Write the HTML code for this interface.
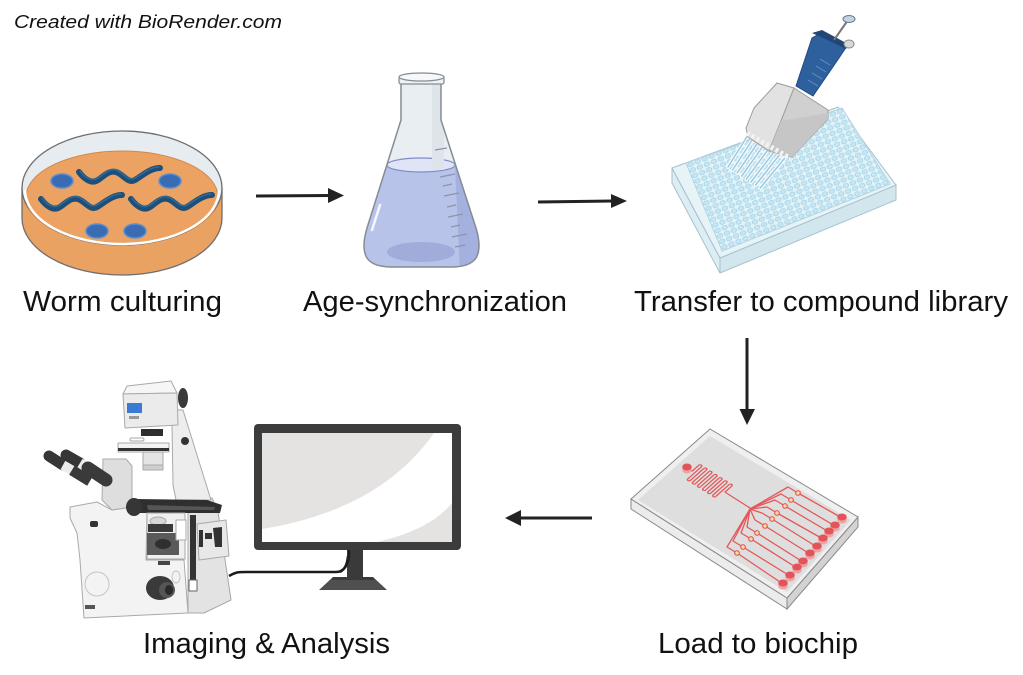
<!DOCTYPE html>
<html><head><meta charset="utf-8"><style>
html,body{margin:0;padding:0;background:#fff;}
svg{display:block;}
text{font-family:"Liberation Sans",sans-serif;fill:#111;}
</style></head><body>
<svg width="1023" height="675" viewBox="0 0 1023 675" xmlns="http://www.w3.org/2000/svg">
<defs>
  <clipPath id="flaskclip"><path d="M401,82 L401,120 L367,228 Q361,248 367,258 Q373,267 392,267 L451,267 Q470,267 476,258 Q482,248 476,228 L441,120 L441,82 Z"/></clipPath>
  <pattern id="wells" patternUnits="userSpaceOnUse" width="1" height="1" patternTransform="matrix(7,-2.79,-2.25,-5.5,722,251)">
    <rect x="0" y="0" width="1" height="1" fill="#e4f2f7"/>
    <circle cx=".5" cy=".5" r=".37" fill="#c6e6f3" stroke="#98cfe6" stroke-width=".09"/>
  </pattern>
</defs>
<rect width="1023" height="675" fill="#fff"/>

<!-- Title -->
<text x="14" y="28" font-size="18" font-style="italic" textLength="268" lengthAdjust="spacingAndGlyphs">Created with BioRender.com</text>

<!-- ============ PETRI DISH ============ -->
<g>
  <path d="M22,188 L22,218 A100,57 0 0 0 222,218 L222,188 Z" fill="#eaa263" stroke="#6e6e6e" stroke-width="1.3"/>
  <ellipse cx="122" cy="188" rx="100" ry="57" fill="#e6ecef" stroke="#6e6e6e" stroke-width="1.3"/>
  <path d="M24,190 A98,55 0 0 0 220,190 Z" fill="#eba465"/>
  <ellipse cx="122" cy="197" rx="96" ry="46" fill="#eba263" stroke="#d3884a" stroke-width="1"/>
  <path d="M25,190 A97,54 0 0 0 219,190" fill="none" stroke="#ffffff" stroke-width="2.5"/>
  <ellipse cx="62" cy="181" rx="11" ry="7" fill="#3a6cb4" stroke="#5b8fd0" stroke-width="1.5"/>
  <ellipse cx="170" cy="181" rx="11" ry="7" fill="#3a6cb4" stroke="#5b8fd0" stroke-width="1.5"/>
  <ellipse cx="97" cy="231" rx="11" ry="7" fill="#3a6cb4" stroke="#5b8fd0" stroke-width="1.5"/>
  <ellipse cx="135" cy="231" rx="11" ry="7" fill="#3a6cb4" stroke="#5b8fd0" stroke-width="1.5"/>
  <g fill="none" stroke="#1f4e78" stroke-width="6" stroke-linecap="round">
    <path d="M79,172 C85,180 92,184 98,180 S109,170 116,172 S128,184 135,180 S150,168 160,168"/>
    <path d="M41,199 C47,207 54,211 60,207 S71,197 78,199 S90,211 97,207 S112,195 122,195"/>
    <path d="M131,199 C137,207 144,211 150,207 S161,197 168,199 S180,211 187,207 S202,195 212,195"/>
  </g>
  <g fill="none" stroke="#2f6a98" stroke-width="1.5" stroke-linecap="round">
    <path d="M80,171 C85,178 92,182 98,178 S109,168 116,170 S128,182 135,178 S150,167 159,167"/>
    <path d="M42,198 C47,205 54,209 60,205 S71,195 78,197 S90,209 97,205 S112,194 121,194"/>
    <path d="M132,198 C137,205 144,209 150,205 S161,195 168,197 S180,209 187,205 S202,194 211,194"/>
  </g>
</g>

<!-- ============ FLASK ============ -->
<g>
  <path d="M401,82 L401,120 L367,228 Q361,248 367,258 Q373,267 392,267 L451,267 Q470,267 476,258 Q482,248 476,228 L441,120 L441,82 Z" fill="#e9eef3"/>
  <g clip-path="url(#flaskclip)">
    <rect x="350" y="165" width="140" height="110" fill="#b8c3e9"/>
    <polygon points="455,165 490,165 490,275 460,275" fill="#a4b0de"/>
    <ellipse cx="421" cy="252" rx="34" ry="10" fill="#a1acda"/>
    <ellipse cx="421" cy="165" rx="34" ry="7" fill="#dfe5f6" stroke="#7e8bc8" stroke-width="1.2"/>
    <rect x="432" y="80" width="12" height="90" fill="#dde4ea"/>
  </g>
  <path d="M401,82 L401,120 L367,228 Q361,248 367,258 Q373,267 392,267 L451,267 Q470,267 476,258 Q482,248 476,228 L441,120 L441,82" fill="none" stroke="#858c94" stroke-width="1.5"/>
  <rect x="399" y="77" width="45" height="7" rx="2" fill="#eef2f5" stroke="#858c94" stroke-width="1.3"/>
  <ellipse cx="421.5" cy="77" rx="22.5" ry="4" fill="#f6f8fa" stroke="#858c94" stroke-width="1.3"/>
  <path d="M372,230 L380,205" stroke="#f5f7fb" stroke-width="2.5" stroke-linecap="round"/>
  <g stroke="#8d93a8" stroke-width="1.2">
    <line x1="435" y1="150" x2="447" y2="148"/>
    <line x1="440" y1="177" x2="455" y2="174"/>
    <line x1="443" y1="186" x2="452" y2="184"/>
    <line x1="444" y1="196" x2="459" y2="193"/>
    <line x1="447" y1="207" x2="456" y2="205"/>
    <line x1="448" y1="217" x2="463" y2="214"/>
    <line x1="451" y1="227" x2="460" y2="225"/>
    <line x1="452" y1="237" x2="467" y2="234"/>
    <line x1="455" y1="247" x2="465" y2="245"/>
  </g>
</g>

<!-- ============ PLATE + PIPETTE ============ -->
<g>
  <polygon points="672,168 720,258 720,273 672,183" fill="#dcedf3" stroke="#a6c2cc" stroke-width="1"/>
  <polygon points="720,258 896,185 896,200 720,273" fill="#d2e6ee" stroke="#a6c2cc" stroke-width="1"/>
  <polygon points="672,168 838,107 896,185 720,258" fill="#e6f3f7" stroke="#a6c2cc" stroke-width="1"/>
  <polygon points="686,163 842,108 890,184 722,251" fill="url(#wells)" stroke="#b5d3de" stroke-width="1"/>
  <!-- tips -->
  <g stroke-linecap="round">
    <g stroke="#ffffff" stroke-width="3.5">
      <line x1="748" y1="135" x2="728" y2="167"/><line x1="753.5" y1="138" x2="732.6" y2="170"/>
      <line x1="759" y1="141" x2="737.2" y2="173"/><line x1="764.5" y1="144" x2="741.8" y2="176"/>
      <line x1="770" y1="147" x2="746.4" y2="179"/><line x1="775.5" y1="150" x2="751" y2="182"/>
      <line x1="781" y1="153" x2="755.6" y2="185"/><line x1="786.5" y1="156" x2="760.2" y2="188"/>
    </g>
    <g stroke="#9ccbe2" stroke-width="1.6">
      <line x1="748" y1="135" x2="728" y2="167"/><line x1="753.5" y1="138" x2="732.6" y2="170"/>
      <line x1="759" y1="141" x2="737.2" y2="173"/><line x1="764.5" y1="144" x2="741.8" y2="176"/>
      <line x1="770" y1="147" x2="746.4" y2="179"/><line x1="775.5" y1="150" x2="751" y2="182"/>
      <line x1="781" y1="153" x2="755.6" y2="185"/><line x1="786.5" y1="156" x2="760.2" y2="188"/>
    </g>
  </g>
  <!-- blue handle -->
  <polygon points="796,86 813,96 839,58 847,46 836,38 821,33 812,38 806,56" fill="#2e609e" stroke="#234b7e" stroke-width="1"/>
  <polygon points="812,33 822,30 848,44 846,49 836,44" fill="#1f4676"/>
  <g stroke="#5a86bd" stroke-width="1.2">
    <line x1="808" y1="80" x2="818" y2="86"/><line x1="812" y1="73" x2="822" y2="79"/>
    <line x1="816" y1="66" x2="826" y2="72"/><line x1="820" y1="59" x2="830" y2="65"/>
  </g>
  <line x1="834" y1="40" x2="848" y2="20" stroke="#777" stroke-width="2"/>
  <ellipse cx="849" cy="19" rx="6" ry="3.5" fill="#c9d1da" stroke="#5c7aa0" stroke-width="1"/>
  <ellipse cx="849" cy="44" rx="5" ry="4" fill="#d5dadf" stroke="#888" stroke-width="1"/>
  <!-- gray head -->
  <polygon points="754,108 777,83 794,88 781,121 769,151 748,137 746,128" fill="#e2e2e2" stroke="#9c9c9c" stroke-width="1"/>
  <polygon points="794,88 828,110 828,119 792,157 769,151 781,121" fill="#d0d0d0" stroke="#9c9c9c" stroke-width="1"/>
  <polygon points="781,121 828,113 828,119 792,157 769,151" fill="#c6c6c6"/>
  <line x1="747" y1="133" x2="788" y2="157" stroke="#f2f2f2" stroke-width="5" stroke-dasharray="3,2.5"/>
</g>

<!-- ============ BIOCHIP ============ -->
<g>
  <polygon points="631,499 787,598 787,609 631,509" fill="#ececec" stroke="#8a8a8a" stroke-width="1"/>
  <polygon points="787,598 858,517 858,527 787,609" fill="#d3d3d3" stroke="#8a8a8a" stroke-width="1"/>
  <polygon points="710,429 858,517 787,598 631,499" fill="#efefef" stroke="#8a8a8a" stroke-width="1"/>
  <polygon points="710,436 851,520 787,592 638,500" fill="#dedede"/>
  <g fill="none" stroke="#e4575a" stroke-width="1.3" stroke-linejoin="round">
    <path transform="matrix(0.844,0.536,-0.748,0.663,687,468)" d="M0,0 H6 V-9 A1.5,1.5 0 0 1 9,-9 V9 A1.5,1.5 0 0 0 12,9 V-9 A1.5,1.5 0 0 1 15,-9 V9 A1.5,1.5 0 0 0 18,9 V-9 A1.5,1.5 0 0 1 21,-9 V9 A1.5,1.5 0 0 0 24,9 V-9 A1.5,1.5 0 0 1 27,-9 V9 A1.5,1.5 0 0 0 30,9 V-9 A1.5,1.5 0 0 1 33,-9 V9 A1.5,1.5 0 0 0 36,9 V-9 A1.5,1.5 0 0 1 39,-9 V9 A1.5,1.5 0 0 0 42,9 V-9 A1.5,1.5 0 0 1 45,-9 V0 H75"/>
    <path d="M750,509 L788,487 L798,493 L842,518"/>
    <path d="M750,509 L781,494 L791,500 L835,526"/>
    <path d="M750,509 L775,500 L785,506 L829,532"/>
    <path d="M750,509 L767,507 L777,513 L823,539"/>
    <path d="M750,509 L762,513 L772,519 L817,547"/>
    <path d="M750,509 L755,520 L765,526 L810,554"/>
    <path d="M750,509 L747,527 L757,533 L803,562"/>
    <path d="M750,509 L741,533 L751,539 L797,568"/>
    <path d="M750,509 L733,541 L743,547 L790,576"/>
    <path d="M750,509 L727,547 L737,553 L783,584"/>
  </g>
  <g fill="#f3dea0" stroke="#e4575a" stroke-width="1.2">
    <circle cx="798" cy="493" r="2.3"/><circle cx="791" cy="500" r="2.3"/><circle cx="785" cy="506" r="2.3"/>
    <circle cx="777" cy="513" r="2.3"/><circle cx="772" cy="519" r="2.3"/><circle cx="765" cy="526" r="2.3"/>
    <circle cx="757" cy="533" r="2.3"/><circle cx="751" cy="539" r="2.3"/><circle cx="743" cy="547" r="2.3"/>
    <circle cx="737" cy="553" r="2.3"/>
  </g>
  <g fill="#f0a2a2">
    <ellipse cx="687" cy="470" rx="4.8" ry="3.5"/>
    <ellipse cx="842" cy="520" rx="4.8" ry="3.5"/><ellipse cx="835" cy="528" rx="4.8" ry="3.5"/>
    <ellipse cx="829" cy="534" rx="4.8" ry="3.5"/><ellipse cx="823" cy="541" rx="4.8" ry="3.5"/>
    <ellipse cx="817" cy="549" rx="4.8" ry="3.5"/><ellipse cx="810" cy="556" rx="4.8" ry="3.5"/>
    <ellipse cx="803" cy="564" rx="4.8" ry="3.5"/><ellipse cx="797" cy="570" rx="4.8" ry="3.5"/>
    <ellipse cx="790" cy="578" rx="4.8" ry="3.5"/><ellipse cx="783" cy="586" rx="4.8" ry="3.5"/>
  </g>
  <g fill="#e0545a">
    <ellipse cx="687" cy="467" rx="4.8" ry="3.5"/>
    <ellipse cx="842" cy="517" rx="4.8" ry="3.5"/><ellipse cx="835" cy="525" rx="4.8" ry="3.5"/>
    <ellipse cx="829" cy="531" rx="4.8" ry="3.5"/><ellipse cx="823" cy="538" rx="4.8" ry="3.5"/>
    <ellipse cx="817" cy="546" rx="4.8" ry="3.5"/><ellipse cx="810" cy="553" rx="4.8" ry="3.5"/>
    <ellipse cx="803" cy="561" rx="4.8" ry="3.5"/><ellipse cx="797" cy="567" rx="4.8" ry="3.5"/>
    <ellipse cx="790" cy="575" rx="4.8" ry="3.5"/><ellipse cx="783" cy="583" rx="4.8" ry="3.5"/>
  </g>
</g>

<!-- ============ MONITOR ============ -->
<g>
  <path d="M229,576 C236,572 238,572 246,572 L336,572 C344,572 347,566 348,556" fill="none" stroke="#1c1c1c" stroke-width="2.5"/>
  <rect x="347" y="549" width="16" height="29" fill="#3a3a3a"/>
  <polygon points="333,577 373,577 387,590 319,590" fill="#4f4f4f"/>
  <polygon points="333,577 373,577 375,580 331,580" fill="#3a3a3a"/>
  <rect x="254" y="424" width="207" height="126" rx="4" fill="#3c3c3c"/>
  <rect x="262" y="433" width="190" height="109" fill="#ffffff"/>
  <path d="M262,433 H434 Q380,510 262,529 Z" fill="#e5e2e2"/>
  <path d="M377,542 Q430,530 452,503 V542 Z" fill="#e5e2e2"/>
  <path d="M349,550 Q350,566 340,572" fill="none" stroke="#1c1c1c" stroke-width="2.5"/>
</g>

<!-- ============ MICROSCOPE ============ -->
<g stroke="#a9a9a9" stroke-width="1" stroke-linejoin="round">
  <polygon points="176,498 212,498 218,512 231,600 204,613 188,613 188,512" fill="#e3e3e3"/>
  <polygon points="167,410 183,410 211,500 176,500 173,485 172,425" fill="#ededed"/>
  <polygon points="127,386 171,381 177,393 123,394" fill="#f6f6f6"/>
  <polygon points="123,394 177,393 178,425 125,428" fill="#ebebeb"/>
  <rect x="127" y="403" width="15" height="10" fill="#3b7bd6" stroke="none"/>
  <rect x="129" y="416" width="10" height="3" fill="#999" stroke="none"/>
  <ellipse cx="183" cy="398" rx="5" ry="10" fill="#3a3a3a" stroke="none"/>
  <rect x="141" y="429" width="22" height="7" fill="#2e2e2e" stroke="none"/>
  <rect x="130" y="438" width="14" height="3" rx="1.5" fill="#fff"/>
  <rect x="118" y="443" width="51" height="9" fill="#f3f3f3"/>
  <rect x="118" y="448" width="51" height="3" fill="#333" stroke="none"/>
  <rect x="143" y="452" width="20" height="17" fill="#e4e4e4"/>
  <rect x="143" y="465" width="20" height="5" fill="#cfcfcf"/>
  <circle cx="185" cy="441" r="4" fill="#333" stroke="none"/>

  <polygon points="70,507 97,502 112,510 132,507 147,513 146,560 184,560 188,613 84,618 80,560 77,533 70,518" fill="#f3f3f3"/>
  <polygon points="103,459 126,459 132,466 132,507 112,510 102,500" fill="#dedede"/>

  <g stroke="none">
    <line x1="49" y1="456" x2="63" y2="465" stroke="#363636" stroke-width="11" stroke-linecap="round"/>
    <line x1="63" y1="465" x2="72" y2="470" stroke="#ececec" stroke-width="10"/>
    <line x1="72" y1="470" x2="90" y2="481" stroke="#3a3a3a" stroke-width="11"/>
    <line x1="66" y1="455" x2="80" y2="463" stroke="#363636" stroke-width="11" stroke-linecap="round"/>
    <line x1="80" y1="463" x2="88" y2="468" stroke="#ececec" stroke-width="10"/>
    <line x1="88" y1="468" x2="106" y2="480" stroke="#3a3a3a" stroke-width="13" stroke-linecap="round"/>
  </g>

  <polygon points="136,499 207,500 222,505 220,513 140,513" fill="#2f2f2f" stroke="none"/>
  <polygon points="147,505 215,507 214,510 148,510" fill="#555" stroke="none"/>
  <ellipse cx="134" cy="507" rx="8" ry="9" fill="#363636" stroke="none"/>

  <rect x="147" y="513" width="38" height="46" fill="#f0f0f0"/>
  <ellipse cx="158" cy="521" rx="8" ry="4" fill="#d8d8d8"/>
  <rect x="148" y="524" width="25" height="8" fill="#3a3a3a" stroke="none"/>
  <rect x="147" y="533" width="32" height="22" fill="#5a5a5a" stroke="none"/>
  <ellipse cx="163" cy="544" rx="8" ry="5" fill="#2f2f2f" stroke="none"/>
  <rect x="176" y="520" width="10" height="20" fill="#fff"/>
  <rect x="158" y="561" width="12" height="4" fill="#444" stroke="none"/>

  <ellipse cx="160" cy="588" rx="14" ry="12" fill="#3a3a3a" stroke="none"/>
  <ellipse cx="167" cy="590" rx="8" ry="8" fill="#555" stroke="none"/>
  <ellipse cx="169" cy="590" rx="4" ry="5" fill="#2a2a2a" stroke="none"/>

  <rect x="190" y="515" width="6" height="66" fill="#333" stroke="none"/>
  <rect x="189" y="580" width="8" height="11" fill="#fff" stroke="#666"/>

  <polygon points="197,524 226,520 229,556 199,560" fill="#e8e8e8"/>
  <rect x="199" y="530" width="4" height="17" fill="#333" stroke="none"/>
  <rect x="205" y="533" width="7" height="6" fill="#333" stroke="none"/>
  <polygon points="213,528 222,527 222,547 215,547" fill="#333" stroke="none"/>

  <circle cx="97" cy="584" r="12" fill="none" stroke="#c4c4c4"/>
  <ellipse cx="176" cy="577" rx="4" ry="6" fill="none" stroke="#c4c4c4"/>
  <rect x="90" y="521" width="8" height="6" rx="2" fill="#333" stroke="none"/>
  <rect x="85" y="605" width="10" height="4" fill="#555" stroke="none"/>
</g>

<!-- ============ ARROWS ============ -->
<g fill="#222" stroke="#222">
  <line x1="256" y1="196" x2="331" y2="195.5" stroke-width="3"/>
  <polygon points="328,188 344,195.5 328,203" stroke="none"/>
  <line x1="538" y1="202" x2="613" y2="201" stroke-width="3"/>
  <polygon points="611,194 627,201 611,208" stroke="none"/>
  <line x1="747" y1="338" x2="747" y2="412" stroke-width="3"/>
  <polygon points="739.5,409 755,409 747,425" stroke="none"/>
  <line x1="592" y1="518" x2="518" y2="518" stroke-width="3"/>
  <polygon points="521,510 505,518 521,526" stroke="none"/>
</g>

<!-- ============ LABELS ============ -->
<text x="23" y="311" font-size="29" textLength="199" lengthAdjust="spacingAndGlyphs">Worm culturing</text>
<text x="303" y="311" font-size="29" textLength="264" lengthAdjust="spacingAndGlyphs">Age-synchronization</text>
<text x="634" y="311" font-size="29" textLength="374" lengthAdjust="spacingAndGlyphs">Transfer to compound library</text>
<text x="658" y="653" font-size="29" textLength="200" lengthAdjust="spacingAndGlyphs">Load to biochip</text>
<text x="143" y="653" font-size="29" textLength="247" lengthAdjust="spacingAndGlyphs">Imaging &amp; Analysis</text>
</svg>
</body></html>
